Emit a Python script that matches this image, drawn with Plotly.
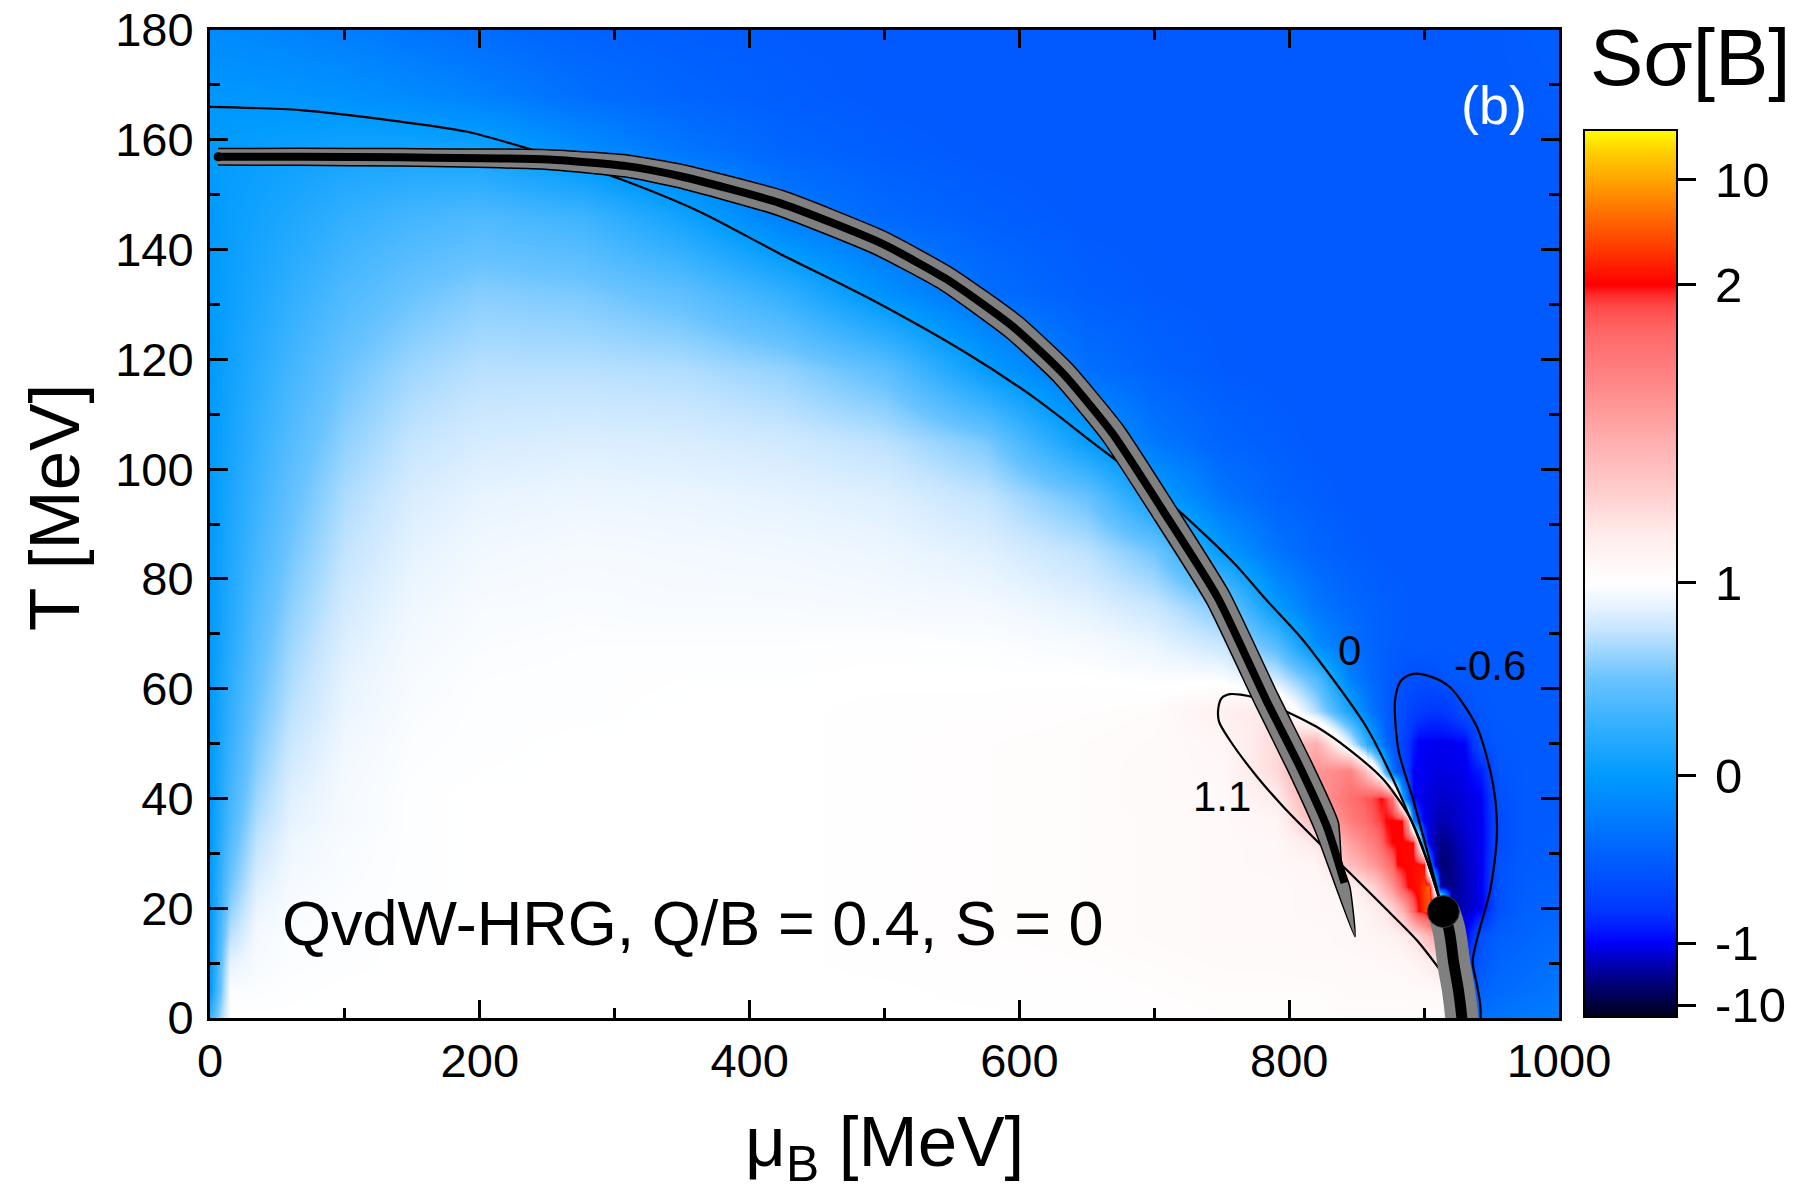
import numpy as np
import plotly.graph_objects as go

# ---------------- data ----------------
mu_nodes = [0, 15, 35, 60, 100, 150, 200, 275, 350, 425, 500, 575, 650, 700,
            750, 790, 820, 845, 860, 872, 884, 895, 904, 912, 920, 930, 942, 955, 975, 1000]
T_nodes = [0, 5, 10, 15, 20, 24, 28, 32, 36, 40, 45, 50, 56, 62, 68, 75, 85, 95,
           105, 118, 132, 146, 158, 168, 180]

# S*sigma[B] estimated on the (T, mu_B) grid above, one row per T node
S_sigma = [
    # T = 0
    [0.3, 1.0, 1.0, 1.0, 1.0, 1.0, 1.0, 1.0, 1.0, 1.0, 1.0, 1.0, 1.01, 1.01,
     1.02, 1.02, 1.02, 1.03, 1.03, 1.03, 1.03, 1.03, 1.03, 1.03, 0.6, -0.4, -0.35, -0.32, -0.28, -0.25],
    # T = 5
    [0.0, 0.975, 0.98, 0.99, 1.0, 1.0, 1.0, 1.0, 1.0, 1.0, 1.0, 1.01, 1.01, 1.02,
     1.03, 1.03, 1.03, 1.04, 1.04, 1.04, 1.04, 1.05, 1.05, 1.05, 0.5, -0.6, -0.45, -0.4, -0.35, -0.3],
    # T = 10
    [0.0, 0.88, 0.96, 0.98, 0.99, 1.0, 1.0, 1.0, 1.0, 1.0, 1.01, 1.01, 1.02, 1.03,
     1.04, 1.04, 1.05, 1.05, 1.05, 1.06, 1.07, 1.1, 1.15, 1.2, 0.2, -0.8, -0.55, -0.45, -0.4, -0.35],
    # T = 15
    [0.0, 0.73, 0.95, 0.98, 0.99, 1.0, 1.0, 1.0, 1.0, 1.0, 1.01, 1.02, 1.03, 1.04,
     1.05, 1.05, 1.05, 1.06, 1.08, 1.1, 1.15, 1.25, 1.45, 1.5, 0.0, -1.5, -0.6, -0.5, -0.45, -0.4],
    # T = 20
    [0.0, 0.60, 0.90, 0.965, 0.98, 0.99, 1.0, 1.0, 1.0, 1.0, 1.01, 1.02, 1.03, 1.04,
     1.05, 1.05, 1.06, 1.07, 1.12, 1.2, 1.45, 2.0, 6.0, 8.0, -4.0, -4.0, -1.5, -0.6, -0.48, -0.45],
    # T = 24
    [0.0, 0.52, 0.85, 0.95, 0.975, 0.99, 1.0, 1.0, 1.0, 1.0, 1.01, 1.02, 1.03, 1.04,
     1.05, 1.05, 1.06, 1.1, 1.25, 1.55, 2.0, 3.0, 9.0, -4.0, -6.0, -4.0, -1.3, -0.6, -0.5, -0.48],
    # T = 28
    [0.0, 0.46, 0.80, 0.93, 0.97, 0.99, 1.0, 1.0, 1.0, 1.0, 1.01, 1.02, 1.03, 1.04,
     1.05, 1.06, 1.08, 1.4, 1.55, 1.85, 2.1, 3.5, -0.5, -7.0, -6.0, -3.5, -1.5, -0.6, -0.52, -0.5],
    # T = 32
    [0.0, 0.41, 0.75, 0.915, 0.965, 0.99, 1.0, 1.0, 1.0, 1.0, 1.01, 1.02, 1.03, 1.04,
     1.05, 1.06, 1.2, 1.55, 1.7, 1.95, 2.2, 1.8, -3.0, -6.0, -5.0, -3.0, -1.5, -0.65, -0.53, -0.5],
    # T = 36
    [0.0, 0.36, 0.70, 0.88, 0.95, 0.99, 1.0, 1.0, 1.0, 1.0, 1.01, 1.02, 1.03, 1.04,
     1.05, 1.08, 1.42, 1.72, 1.85, 2.0, 2.1, -0.55, -2.5, -4.0, -3.5, -2.5, -1.4, -0.65, -0.53, -0.52],
    # T = 40
    [0.0, 0.33, 0.65, 0.86, 0.95, 0.99, 1.0, 1.0, 1.0, 1.0, 1.01, 1.02, 1.03, 1.045,
     1.05, 1.15, 1.55, 1.8, 1.9, 2.0, 0.0, -1.0, -2.2, -3.0, -2.8, -2.2, -1.3, -0.62, -0.53, -0.52],
    # T = 45
    [0.0, 0.30, 0.60, 0.82, 0.94, 0.985, 0.995, 1.0, 1.0, 1.0, 1.01, 1.02, 1.03, 1.045,
     1.06, 1.25, 1.6, 1.7, 1.3, 0.2, -0.55, -1.1, -1.7, -2.0, -1.9, -1.5, -0.9, -0.57, -0.53, -0.52],
    # T = 50
    [0.0, 0.27, 0.56, 0.78, 0.93, 0.98, 0.99, 1.0, 1.0, 1.0, 1.01, 1.02, 1.03, 1.04,
     1.07, 1.25, 1.48, 0.85, 0.15, -0.45, -0.7, -1.0, -1.3, -1.4, -1.3, -1.0, -0.62, -0.55, -0.53, -0.52],
    # T = 56
    [0.0, 0.24, 0.51, 0.73, 0.90, 0.97, 0.99, 0.99, 1.0, 1.0, 1.01, 1.01, 1.02, 1.03,
     1.12, 1.2, 0.7, 0.1, -0.3, -0.5, -0.65, -0.75, -0.8, -0.8, -0.75, -0.62, -0.55, -0.53, -0.52, -0.52],
    # T = 62
    [0.0, 0.22, 0.47, 0.69, 0.88, 0.96, 0.985, 0.99, 0.995, 0.995, 1.0, 1.0, 1.0, 0.98,
     0.97, 0.78, 0.4, -0.22, -0.4, -0.5, -0.6, -0.62, -0.62, -0.58, -0.55, -0.54, -0.53, -0.53, -0.52, -0.52],
    # T = 68
    [0.0, 0.19, 0.43, 0.65, 0.85, 0.945, 0.975, 0.985, 0.985, 0.985, 0.99, 0.985, 0.955, 0.90,
     0.77, 0.41, -0.11, -0.33, -0.44, -0.49, -0.52, -0.53, -0.53, -0.53, -0.53, -0.53, -0.53, -0.53, -0.52, -0.52],
    # T = 75
    [0.0, 0.17, 0.39, 0.60, 0.81, 0.92, 0.96, 0.97, 0.96, 0.96, 0.95, 0.94, 0.87, 0.77,
     0.545, 0.0, -0.30, -0.42, -0.46, -0.49, -0.51, -0.53, -0.53, -0.53, -0.53, -0.53, -0.53, -0.53, -0.53, -0.52],
    # T = 85
    [0.0, 0.15, 0.335, 0.53, 0.75, 0.88, 0.93, 0.95, 0.94, 0.93, 0.91, 0.86, 0.73, 0.52,
     0.0, -0.32, -0.44, -0.50, -0.52, -0.53, -0.53, -0.53, -0.53, -0.53, -0.53, -0.53, -0.53, -0.53, -0.53, -0.52],
    # T = 95
    [0.0, 0.13, 0.29, 0.47, 0.69, 0.83, 0.89, 0.91, 0.90, 0.88, 0.85, 0.75, 0.49, 0.06,
     -0.31, -0.45, -0.50, -0.53, -0.53, -0.53, -0.53, -0.53, -0.53, -0.53, -0.53, -0.53, -0.53, -0.53, -0.53, -0.52],
    # T = 105
    [0.0, 0.11, 0.25, 0.41, 0.61, 0.76, 0.82, 0.84, 0.83, 0.80, 0.73, 0.55, 0.03, -0.29,
     -0.45, -0.50, -0.53, -0.53, -0.53, -0.53, -0.53, -0.53, -0.53, -0.53, -0.53, -0.53, -0.53, -0.53, -0.53, -0.52],
    # T = 118
    [0.0, 0.085, 0.20, 0.33, 0.51, 0.65, 0.72, 0.72, 0.70, 0.62, 0.45, 0.02, -0.355, -0.46,
     -0.52, -0.53, -0.53, -0.53, -0.53, -0.53, -0.53, -0.53, -0.53, -0.53, -0.53, -0.53, -0.53, -0.53, -0.53, -0.52],
    # T = 132
    [0.0, 0.06, 0.14, 0.24, 0.38, 0.50, 0.58, 0.55, 0.45, 0.25, -0.09, -0.37, -0.49, -0.52,
     -0.53, -0.53, -0.53, -0.53, -0.53, -0.53, -0.53, -0.53, -0.53, -0.53, -0.53, -0.53, -0.53, -0.53, -0.53, -0.52],
    # T = 146
    [0.0, 0.04, 0.09, 0.15, 0.25, 0.33, 0.38, 0.31, 0.09, -0.24, -0.41, -0.49, -0.53, -0.53,
     -0.53, -0.53, -0.53, -0.53, -0.53, -0.53, -0.53, -0.53, -0.53, -0.53, -0.53, -0.53, -0.53, -0.53, -0.53, -0.52],
    # T = 158
    [0.0, 0.02, 0.04, 0.06, 0.10, 0.11, 0.09, -0.10, -0.30, -0.44, -0.50, -0.53, -0.53, -0.53,
     -0.53, -0.53, -0.53, -0.53, -0.53, -0.53, -0.53, -0.53, -0.53, -0.53, -0.53, -0.53, -0.53, -0.53, -0.53, -0.52],
    # T = 168
    [-0.03, -0.03, -0.04, -0.05, -0.08, -0.14, -0.21, -0.36, -0.45, -0.50, -0.53, -0.53, -0.53, -0.53,
     -0.53, -0.53, -0.53, -0.53, -0.53, -0.53, -0.53, -0.53, -0.53, -0.53, -0.53, -0.53, -0.53, -0.52, -0.52, -0.51],
    # T = 180
    [-0.14, -0.15, -0.17, -0.20, -0.24, -0.31, -0.38, -0.47, -0.50, -0.52, -0.53, -0.53, -0.53, -0.53,
     -0.53, -0.53, -0.53, -0.53, -0.53, -0.53, -0.53, -0.53, -0.53, -0.53, -0.53, -0.53, -0.52, -0.52, -0.51, -0.50],
]

# finer reading of S*sigma[B] right around the critical point
cp_mu_nodes = [858.5, 860, 864, 868, 872, 876, 880, 884, 888, 892, 896, 900, 904, 908, 912, 916, 920, 921.5]
cp_T_nodes = [19.5, 20, 24, 28, 32, 36, 40, 45, 50, 50.5]
S_sigma_cp = [
    [1.12, 1.12, 1.146, 1.17, 1.2, 1.28, 1.37, 1.45, 1.65, 1.85, 2.47, 4.7, 6.0, 7.0, 8.0, 1.0, -4.0, -4.0],
    [1.12, 1.12, 1.146, 1.17, 1.2, 1.28, 1.37, 1.45, 1.65, 1.85, 2.47, 4.7, 6.0, 7.0, 8.0, 1.0, -4.0, -4.0],
    [1.25, 1.25, 1.3, 1.4, 1.5, 1.6, 1.75, 1.9, 2.1, 2.4, 3.0, 5.0, 7.0, 0.5, -4.0, -6.0, -6.0, -6.0],
    [1.55, 1.55, 1.6, 1.67, 1.75, 1.85, 2.0, 2.1, 2.2, 2.4, 2.8, 2.2, -0.3, -3.0, -7.0, -7.0, -6.0, -6.0],
    [1.7, 1.7, 1.75, 1.85, 1.95, 2.0, 2.1, 2.2, 2.3, 2.2, 1.1, -0.6, -2.5, -4.5, -6.0, -6.0, -5.0, -5.0],
    [1.85, 1.85, 1.9, 1.95, 2.0, 2.05, 2.1, 2.05, 1.5, -0.2, -0.8, -1.5, -2.5, -3.3, -4.0, -4.0, -3.5, -3.5],
    [1.9, 1.9, 1.95, 2.0, 1.95, 1.8, 1.3, 0.2, -0.5, -1.0, -1.5, -2.0, -2.3, -2.7, -3.0, -3.0, -2.8, -2.8],
    [1.3, 1.3, 1.1, 0.75, 0.2, -0.3, -0.55, -0.65, -0.8, -1.0, -1.2, -1.4, -1.7, -1.9, -2.0, -2.0, -1.9, -1.9],
    [0.15, 0.15, -0.05, -0.25, -0.45, -0.53, -0.62, -0.7, -0.81, -0.92, -1.03, -1.17, -1.3, -1.35, -1.4, -1.35, -1.3, -1.3],
    [0.15, 0.15, -0.05, -0.25, -0.45, -0.53, -0.62, -0.7, -0.81, -0.92, -1.03, -1.17, -1.3, -1.35, -1.4, -1.35, -1.3, -1.3],
]

# non-linear colour bar: value -> position along the bar
cb_values = [-30, -10, -1, 0, 1, 2, 10, 30]
cb_positions = [0.0, 0.0132, 0.0834, 0.2724, 0.4893, 0.8253, 0.944, 1.0]
cb_tick_values = [-10, -1, 0, 1, 2, 10]
cb_tick_labels = ["-10", "-1", "0", "1", "2", "10"]

# contour line S*sigma = 0
c0_mu = [0, 67, 141, 190, 240, 251, 309, 363, 422, 491, 561, 610, 652, 709, 759, 783, 808, 820, 857, 884, 902, 914]
c0_T = [166.0, 165.4, 163.3, 161.5, 158.1, 157.3, 152.4, 146.9, 139.3, 130.8, 121.1, 113.2, 105.3, 94.4, 82.9, 76.2, 69.5, 65.8, 53.1, 39.7, 28.8, 19.5]
# contour line S*sigma = -0.6
cm06_mu = [914, 904, 892, 881, 878.5, 883, 892, 905, 919, 939, 951, 954, 949, 941, 936, 939, 941.5, 942]
cm06_T = [19.5, 28.8, 39.7, 48.8, 57.9, 61.5, 62.7, 62.2, 60.3, 53.1, 42.7, 33.6, 23.3, 16.0, 10.3, 6.3, 2.7, 0.0]
# contour line S*sigma = 1.1
c11_mu = [912, 894.5, 870, 845, 820, 795.6, 776, 756, 748, 747.5, 750, 756, 764, 775, 795.6, 820, 845, 870, 889.5, 899, 914]
c11_T = [8.7, 14.2, 20.3, 26.4, 32.4, 38.5, 44.0, 50.6, 54.0, 56.5, 58.3, 59.0, 58.9, 58.3, 56.1, 53.1, 48.8, 43.4, 36.5, 31.0, 19.5]

# chemical freeze-out curve (centre) and its band edges
fo_mu = [6, 67, 141, 251, 309, 348, 422, 497, 546, 595, 632, 669, 706, 747, 783, 808, 828, 841]
fo_T = [156.9, 156.9, 156.8, 156.4, 155.2, 153.4, 148.5, 141.2, 134.6, 126.0, 117.5, 106.5, 92.6, 76.6, 57.9, 45.7, 34.8, 24.6]
fo_up_mu = [6, 67, 141, 251, 310.2, 350.3, 425.4, 500.6, 551.2, 601.2, 639.1, 676.9, 714.2, 755.3, 791.8, 816.4, 836.4, 838.9, 845, 848.8]
fo_up_T = [158.4, 158.45, 158.4, 158.2, 157.2, 155.5, 150.7, 143.3, 136.5, 127.8, 119.1, 107.9, 93.8, 77.7, 58.9, 46.7, 35.7, 28.2, 23.9, 14.8]
fo_lo_mu = [6, 67, 141, 250.2, 308, 346.5, 419.6, 492.8, 541.4, 589.4, 625.5, 661.9, 698.6, 739.1, 775.2, 799.7, 819.6, 848.8]
fo_lo_T = [155.4, 155.35, 155.2, 154.6, 153.2, 151.3, 146.3, 139.1, 132.7, 124.2, 116.0, 105.2, 91.4, 75.5, 56.9, 44.7, 33.9, 14.8]

# nuclear liquid-gas transition line and its critical point
pt_mu = [914.3, 918.5, 922, 925.5, 928, 929.5]
pt_T = [19.4, 16.0, 10.0, 5.0, 0.0, -5.0]
cp_mu = [914.3]
cp_T = [19.4]

# ---------------- figure ----------------
FONT = "Liberation Sans, Arial, Helvetica, sans-serif"

z = np.interp(np.array(S_sigma, dtype=float), cb_values, cb_positions)
z_cp = np.interp(np.array(S_sigma_cp, dtype=float), cb_values, cb_positions)
tick_pos = list(np.interp(cb_tick_values, cb_values, cb_positions))

colorscale = [
    [0.0, "rgb(0,0,25)"], [0.0132, "rgb(0,0,60)"], [0.045, "rgb(0,0,140)"],
    [0.065, "rgb(0,0,195)"], [0.0834, "rgb(0,0,250)"], [0.102, "rgb(0,30,255)"],
    [0.121, "rgb(0,55,255)"], [0.157, "rgb(0,80,255)"], [0.195, "rgb(0,105,255)"],
    [0.233, "rgb(0,130,255)"], [0.2724, "rgb(0,155,255)"], [0.3266, "rgb(50,175,255)"],
    [0.381, "rgb(105,195,255)"], [0.435, "rgb(195,228,255)"], [0.4676, "rgb(235,245,255)"],
    [0.4893, "rgb(255,255,255)"], [0.545, "rgb(255,235,235)"], [0.601, "rgb(255,200,200)"],
    [0.657, "rgb(255,170,170)"], [0.714, "rgb(255,135,135)"], [0.770, "rgb(255,105,105)"],
    [0.800, "rgb(255,75,75)"], [0.815, "rgb(255,40,40)"], [0.8253, "rgb(255,0,0)"],
    [0.864, "rgb(255,55,0)"], [0.9015, "rgb(255,105,0)"], [0.944, "rgb(255,165,0)"],
    [0.977, "rgb(255,210,0)"], [1.0, "rgb(255,255,0)"],
]

L, R, TOP, B = 210, 241, 30, 182
PW, PH = 1800 - L - R, 1200 - TOP - B

fig = go.Figure()
fig.add_trace(go.Heatmap(
    x=mu_nodes, y=T_nodes, z=z, zmin=0, zmax=1, zsmooth="best",
    colorscale=colorscale, hoverinfo="skip",
    colorbar=dict(
        tickmode="array", tickvals=tick_pos,
        ticktext=["\u2009" + t for t in cb_tick_labels],
        ticks="outside", ticklen=18, tickwidth=3, tickcolor="black",
        tickfont=dict(family=FONT, size=49, color="black"),
        outlinewidth=2, outlinecolor="black",
        thickness=93, thicknessmode="pixels",
        len=887 / PH, lenmode="fraction",
        x=(1584 - L) / PW, xanchor="left", xpad=0,
        y=(1018 - 1017) / PH, yanchor="bottom", ypad=0,
    ),
))
fig.add_trace(go.Heatmap(
    x=cp_mu_nodes, y=cp_T_nodes, z=z_cp, zmin=0, zmax=1, zsmooth="best",
    colorscale=colorscale, showscale=False, hoverinfo="skip",
))

line_style = dict(color="black", width=2.2, shape="spline", smoothing=0.8)
fig.add_trace(go.Scatter(x=c0_mu, y=c0_T, mode="lines", line=line_style, hoverinfo="skip"))
fig.add_trace(go.Scatter(x=cm06_mu, y=cm06_T, mode="lines", line=line_style, hoverinfo="skip"))
fig.add_trace(go.Scatter(x=c11_mu, y=c11_T, mode="lines", line=line_style, hoverinfo="skip"))

# freeze-out band
band_x = fo_up_mu + fo_lo_mu[-2::-1]
band_y = fo_up_T + fo_lo_T[-2::-1]
fig.add_trace(go.Scatter(x=band_x, y=band_y, mode="lines", fill="toself",
                         fillcolor="rgb(128,128,128)",
                         line=dict(color="black", width=1.5, shape="spline", smoothing=0.5),
                         hoverinfo="skip"))
fig.add_trace(go.Scatter(x=fo_mu, y=fo_T, mode="lines",
                         line=dict(color="black", width=8, shape="spline", smoothing=0.6),
                         hoverinfo="skip"))
fig.add_trace(go.Scatter(x=fo_mu[:1], y=fo_T[:1], mode="markers",
                         marker=dict(color="black", size=9), hoverinfo="skip"))

# liquid-gas transition line + critical point
fig.add_trace(go.Scatter(x=pt_mu, y=pt_T, mode="lines",
                         line=dict(color="rgb(128,128,128)", width=33, shape="spline"),
                         hoverinfo="skip"))
fig.add_trace(go.Scatter(x=pt_mu, y=pt_T, mode="lines",
                         line=dict(color="black", width=11, shape="spline"),
                         hoverinfo="skip"))
fig.add_trace(go.Scatter(x=cp_mu, y=cp_T, mode="markers",
                         marker=dict(color="black", size=32, line=dict(color="rgb(60,60,60)", width=1)),
                         hoverinfo="skip"))

axis_common = dict(
    showline=True, linewidth=3, linecolor="black", mirror="ticks",
    ticks="inside", ticklen=18, tickwidth=3, tickcolor="black",
    showgrid=False, zeroline=False, automargin=False,
    tickfont=dict(family=FONT, size=47, color="black"),
)
fig.update_xaxes(range=[0, 1000], tick0=0, dtick=200,
                 minor=dict(dtick=100, ticks="inside", ticklen=10, tickwidth=3,
                            tickcolor="black", showgrid=False),
                 **axis_common)
fig.update_yaxes(range=[0, 180], tick0=0, dtick=20, ticklabelstandoff=4,
                 minor=dict(dtick=10, ticks="inside", ticklen=10, tickwidth=3,
                            tickcolor="black", showgrid=False),
                 **axis_common)

annotations = [
    dict(x=952, y=166.3, xref="x", yref="y", text="(b)", showarrow=False,
         font=dict(family=FONT, size=54, color="white")),
    dict(x=52, y=17.3, xref="x", yref="y", text="QvdW-HRG, Q/B = 0.4, S = 0",
         showarrow=False, xanchor="left", yanchor="middle",
         font=dict(family=FONT, size=63, color="black")),
    dict(x=844.6, y=67.0, xref="x", yref="y", text="0", showarrow=False,
         font=dict(family=FONT, size=42, color="black")),
    dict(x=948.8, y=64.3, xref="x", yref="y", text="-0.6", showarrow=False,
         font=dict(family=FONT, size=42, color="black")),
    dict(x=750, y=40.3, xref="x", yref="y", text="1.1", showarrow=False,
         font=dict(family=FONT, size=42, color="black")),
    dict(x=0.5, y=(1018 - 1147) / PH, xref="paper", yref="paper",
         text="\u03bc<sub>B</sub> [MeV]", showarrow=False,
         xanchor="center", yanchor="middle",
         font=dict(family=FONT, size=71, color="black")),
    dict(x=(55 - L) / PW, y=(1018 - 508) / PH, xref="paper", yref="paper",
         text="T [MeV]", showarrow=False, textangle=-90,
         xanchor="center", yanchor="middle",
         font=dict(family=FONT, size=71, color="black")),
    dict(x=(1588 - L) / PW, y=(1018 - 57) / PH, xref="paper", yref="paper",
         text="S\u03c3[B]", showarrow=False, xanchor="left", yanchor="middle",
         font=dict(family=FONT, size=80, color="black")),
]

fig.update_layout(
    width=1800, height=1200,
    margin=dict(l=L, r=R, t=TOP, b=B, pad=0, autoexpand=False),
    paper_bgcolor="white", plot_bgcolor="white",
    showlegend=False, annotations=annotations,
    font=dict(family=FONT, color="black"),
)

fig.write_html("out.html")
